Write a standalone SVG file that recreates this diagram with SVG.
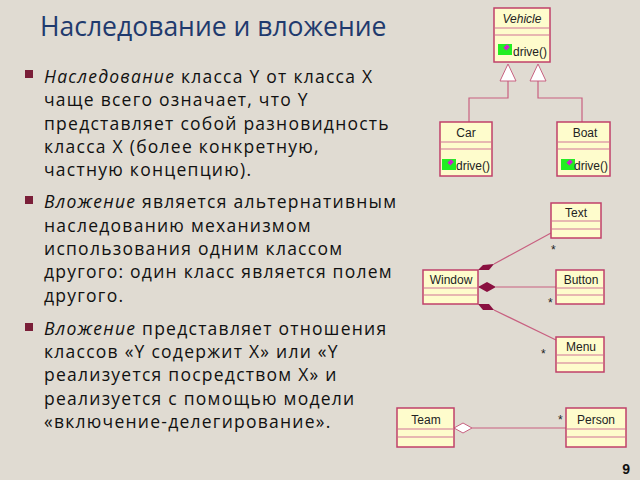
<svg xmlns="http://www.w3.org/2000/svg" width="640" height="480" viewBox="0 0 640 480">
<style>
.b{fill:#fefccc;stroke:#c0406a;stroke-width:1.5}
.s{stroke:#e0a0a8;stroke-width:1.5}
.n{font-family:"Liberation Sans",Arial,sans-serif;font-size:12px;fill:#222;text-anchor:middle}
.t{font-family:"Open Sans","Liberation Sans",sans-serif;font-size:17.5px;letter-spacing:1.25px;fill:#111}
.c{stroke:#c86080;stroke-width:1.2;fill:none}
.st{font-family:"Liberation Sans",sans-serif;font-size:12px;fill:#222}
</style>
<rect width="640" height="480" fill="#e0dbd2"/>
<text x="40" y="36" font-family="'Open Sans','Liberation Sans',sans-serif" font-size="26.5" fill="#1f3a6e">Наследование и вложение</text>
<g fill="#7a1e38"><rect x="25" y="70" width="8" height="8"/><rect x="25" y="196" width="8" height="8"/><rect x="25" y="323" width="8" height="8"/></g>
<text class="t"><tspan x="44" y="83"><tspan font-style="italic">Наследование</tspan> класса Y от класса X</tspan><tspan x="44" y="106">чаще всего означает, что Y</tspan><tspan x="44" y="130">представляет собой разновидность</tspan><tspan x="44" y="153">класса X (более конкретную,</tspan><tspan x="44" y="176">частную концепцию).</tspan>
<tspan x="44" y="208"><tspan font-style="italic">Вложение</tspan> является альтернативным</tspan><tspan x="44" y="232">наследованию механизмом</tspan><tspan x="44" y="255">использования одним классом</tspan><tspan x="44" y="278">другого: один класс является полем</tspan><tspan x="44" y="302">другого.</tspan>
<tspan x="44" y="335"><tspan font-style="italic">Вложение</tspan> представляет отношения</tspan><tspan x="44" y="358">классов «Y содержит X» или «Y</tspan><tspan x="44" y="381">реализуется посредством X» и</tspan><tspan x="44" y="405">реализуется с помощью модели</tspan><tspan x="44" y="428">«включение-делегирование».</tspan></text>
<g id="connectors">
<path class="c" d="M508 81V98H469V122M538 81V98H582V122"/>
<polygon points="508,64 500,81 516,81" fill="#fff" stroke="#c86080"/>
<polygon points="538,64 530,81 546,81" fill="#fff" stroke="#c86080"/>
<path class="c" d="M494 264L551 233M496 287H556M494 310L556 340M472 428H566"/>
<polygon points="478,270 483,265 494,264 489,270" fill="#8a1040"/>
<polygon points="478,287 487,282 496,287 487,292" fill="#8a1040"/>
<polygon points="478,304 489,304 494,310 483,310" fill="#8a1040"/>
<polygon points="454,428 463,423 472,428 463,433" fill="#fff" stroke="#c86080"/>
<text class="st" x="551" y="254">*</text><text class="st" x="548" y="307">*</text><text class="st" x="541" y="358">*</text><text class="st" x="558" y="424">*</text>
</g>
<g id="vehicle"><rect class="b" x="494" y="8" width="56" height="54"/><path class="s" d="M495 28H549M495 35H549"/><text class="n" x="522" y="23" font-style="italic">Vehicle</text><rect x="498" y="44" width="14" height="11" fill="#22ee22"/><rect x="505" y="45" width="4" height="5" fill="#d020d0" transform="rotate(45 507 47)"/><text class="n" x="530" y="56">drive()</text></g>
<g id="car"><rect class="b" x="440" y="122" width="52" height="54"/><path class="s" d="M441 142H491M441 149H491"/><text class="n" x="466" y="137">Car</text><rect x="442" y="159" width="14" height="11" fill="#22ee22"/><rect x="449" y="160" width="4" height="5" fill="#d020d0" transform="rotate(45 451 162)"/><text class="n" x="473" y="170">drive()</text></g>
<g id="boat"><rect class="b" x="557" y="122" width="53" height="54"/><path class="s" d="M558 142H609M558 149H609"/><text class="n" x="585" y="137">Boat</text><rect x="561" y="159" width="14" height="11" fill="#22ee22"/><rect x="568" y="160" width="4" height="5" fill="#d020d0" transform="rotate(45 570 162)"/><text class="n" x="591" y="170">drive()</text></g>
<g id="text"><rect class="b" x="551" y="203" width="50" height="35"/><path class="s" d="M552 221H600M552 229H600"/><text class="n" x="576" y="217">Text</text></g>
<g id="window"><rect class="b" x="423" y="270" width="55" height="34"/><path class="s" d="M424 288H477M424 295H477"/><text class="n" x="451" y="284">Window</text></g>
<g id="button"><rect class="b" x="556" y="270" width="48" height="34"/><path class="s" d="M557 288H603M557 295H603"/><text class="n" x="581" y="284">Button</text></g>
<g id="menu"><rect class="b" x="556" y="337" width="48" height="35"/><path class="s" d="M557 355H603M557 363H603"/><text class="n" x="581" y="351">Menu</text></g>
<g id="team"><rect class="b" x="397" y="408" width="57" height="39"/><path class="s" d="M398 429H453M398 437H453"/><text class="n" x="426" y="424" font-size="13">Team</text></g>
<g id="person"><rect class="b" x="566" y="408" width="60" height="39"/><path class="s" d="M567 429H625M567 437H625"/><text class="n" x="596" y="424" font-size="13">Person</text></g>
<text x="630" y="474" text-anchor="end" font-family="'Liberation Sans',sans-serif" font-weight="bold" font-size="14" fill="#111">9</text>
</svg>
